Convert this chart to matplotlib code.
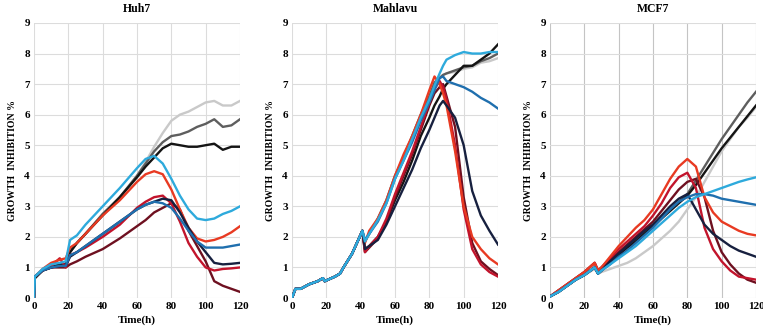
import matplotlib.pyplot as plt
import numpy as np

plt.rcParams['font.family'] = ['Liberation Serif', 'DejaVu Serif']
plt.rcParams['font.weight'] = 'bold'

colors = {
    "lgray": "#c9c9c9", "dgray": "#5e5e5e", "black": "#141414",
    "maroon": "#6e1020", "crimson": "#c2142c", "red": "#e83a22",
    "navy": "#17203f", "steel": "#1f6fae", "sky": "#2eaadc",
}
order = ["lgray", "dgray", "black", "maroon", "crimson", "red", "navy", "steel", "sky"]

# Huh7
huh7_t = [0, 0.5, 5, 10, 15, 18.5, 21, 25, 30, 40, 50, 60, 65, 70, 75, 80, 85, 90, 95, 100, 105, 110, 115, 120]
huh7 = {
    "lgray":   [0, 0.65, 0.9, 1.0, 1.1, 1.1, 1.5, 1.8, 2.1, 2.75, 3.3, 4.0, 4.45, 4.95, 5.4, 5.8, 6.0, 6.1, 6.25, 6.4, 6.45, 6.3, 6.3, 6.45],
    "dgray":   [0, 0.65, 0.9, 1.0, 1.1, 1.1, 1.5, 1.8, 2.1, 2.75, 3.3, 4.0, 4.4, 4.8, 5.1, 5.3, 5.35, 5.45, 5.6, 5.7, 5.85, 5.6, 5.65, 5.85],
    "black":   [0, 0.65, 0.9, 1.0, 1.1, 1.1, 1.5, 1.8, 2.1, 2.7, 3.3, 3.95, 4.3, 4.6, 4.9, 5.05, 5.0, 4.95, 4.95, 5.0, 5.05, 4.85, 4.95, 4.95],
    "maroon":  [0, 0.7, 0.9, 1.0, 1.0, 1.0, 1.1, 1.2, 1.35, 1.6, 1.95, 2.35, 2.55, 2.8, 2.95, 3.1, 2.9, 2.2, 1.7, 1.2, 0.55, 0.4, 0.3, 0.2],
    "crimson": [0, 0.7, 0.9, 1.05, 1.3, 1.0, 1.4, 1.5, 1.65, 2.0, 2.4, 2.95, 3.15, 3.3, 3.35, 3.1, 2.5, 1.8, 1.35, 1.0, 0.9, 0.95, 0.97, 1.0],
    "red":     [0, 0.7, 0.95, 1.15, 1.25, 1.3, 1.65, 1.8, 2.1, 2.7, 3.2, 3.8, 4.05, 4.15, 4.05, 3.55, 2.9, 2.3, 1.95, 1.85, 1.9, 2.0, 2.15, 2.35],
    "navy":    [0, 0.7, 0.9, 1.0, 1.05, 1.05, 1.35, 1.5, 1.7, 2.1, 2.5, 2.9, 3.05, 3.15, 3.25, 3.2, 2.8, 2.3, 1.85, 1.5, 1.15, 1.1, 1.12, 1.15],
    "steel":   [0, 0.7, 0.9, 1.0, 1.05, 1.05, 1.4, 1.5, 1.7, 2.1, 2.5, 2.9, 3.05, 3.15, 3.1, 2.95, 2.6, 2.2, 1.85, 1.65, 1.65, 1.65, 1.7, 1.75],
    "sky":     [0, 0.7, 0.95, 1.1, 1.15, 1.2, 1.9, 2.05, 2.4, 3.0, 3.6, 4.25, 4.55, 4.65, 4.4, 3.9, 3.35, 2.9, 2.6, 2.55, 2.6, 2.75, 2.85, 3.0],
}

# Mahlavu
mah_t = [0, 2, 5, 10, 15, 18, 19, 25, 28, 30, 35, 41, 42.5, 45, 50, 55, 60, 65, 70, 75, 80, 83, 86, 88, 90, 95, 100, 105, 110, 115, 120]
mah_start = [0, 0.3, 0.3, 0.45, 0.55, 0.65, 0.55, 0.7, 0.8, 1.0, 1.45, 2.2]
mahlavu = {
    "lgray":   mah_start + [1.85, 2.1, 2.6, 3.2, 4.0, 4.6, 5.3, 6.0, 6.6, 7.05, 7.2, 7.3, 7.35, 7.4, 7.5, 7.55, 7.7, 7.75, 7.85],
    "dgray":   mah_start + [1.85, 2.1, 2.6, 3.2, 4.0, 4.6, 5.3, 6.0, 6.6, 7.05, 7.2, 7.3, 7.35, 7.45, 7.55, 7.6, 7.75, 7.85, 8.0],
    "black":   mah_start + [1.6, 1.7, 2.0, 2.5, 3.2, 3.8, 4.5, 5.3, 5.9, 6.3, 6.6, 6.85, 7.0, 7.3, 7.6, 7.6, 7.8, 8.0, 8.3],
    "maroon":  mah_start + [1.5, 1.65, 1.95, 2.5, 3.3, 4.0, 4.7, 5.5, 6.3, 6.7, 6.9, 7.0, 6.6, 5.6, 3.3, 1.8, 1.2, 0.95, 0.75],
    "crimson": mah_start + [1.5, 1.7, 2.0, 2.6, 3.4, 4.1, 4.8, 5.6, 6.4, 6.85, 7.1, 6.9, 6.5, 5.0, 2.9, 1.6, 1.1, 0.85, 0.7],
    "red":     mah_start + [1.8, 2.2, 2.6, 3.2, 4.0, 4.7, 5.3, 6.0, 6.8, 7.25, 7.0, 6.7, 6.3, 4.8, 3.0, 2.0, 1.6, 1.3, 1.1],
    "navy":    mah_start + [1.6, 1.7, 1.9, 2.4, 3.0, 3.6, 4.2, 4.9, 5.5, 5.9, 6.3, 6.45, 6.3, 5.9, 5.0, 3.5, 2.7, 2.2, 1.75],
    "steel":   mah_start + [1.9, 2.1, 2.5, 3.1, 3.9, 4.5, 5.1, 5.8, 6.4, 6.8, 7.2, 7.25, 7.1, 7.0, 6.9, 6.75, 6.55, 6.4, 6.2],
    "sky":     mah_start + [1.85, 2.1, 2.55, 3.1, 3.9, 4.5, 5.2, 5.9, 6.5, 6.95, 7.35, 7.6, 7.8, 7.95, 8.05, 8.0, 8.0, 8.05, 8.05],
}

# MCF7
mcf_t = [0, 5, 10, 15, 20, 26, 28, 30, 35, 40, 45, 50, 55, 60, 65, 70, 75, 80, 85, 90, 95, 100, 105, 110, 115, 120]
mcf_red_start = [0.05, 0.25, 0.45, 0.65, 0.85, 1.15, 0.9, 1.0]
mcf_blue_start = [0.05, 0.2, 0.4, 0.6, 0.75, 1.0, 0.8, 0.9]
mcf7 = {
    "lgray":   [0.05, 0.25, 0.4, 0.6, 0.75, 0.95, 0.8, 0.85, 0.95, 1.05, 1.15, 1.3, 1.5, 1.7, 1.95, 2.2, 2.5, 2.9, 3.3, 3.8, 4.3, 4.8, 5.2, 5.6, 5.9, 6.25],
    "dgray":   mcf_blue_start + [1.2, 1.45, 1.7, 1.9, 2.15, 2.4, 2.65, 2.9, 3.15, 3.4, 3.85, 4.3, 4.75, 5.2, 5.6, 6.0, 6.4, 6.75],
    "black":   mcf_blue_start + [1.15, 1.4, 1.65, 1.85, 2.1, 2.35, 2.6, 2.85, 3.1, 3.35, 3.7, 4.1, 4.5, 4.9, 5.25, 5.6, 5.95, 6.3],
    "maroon":  mcf_red_start + [1.25, 1.5, 1.75, 2.0, 2.25, 2.5, 2.85, 3.2, 3.55, 3.8, 3.9, 3.3, 2.2, 1.5, 1.1, 0.8, 0.6, 0.5],
    "crimson": mcf_red_start + [1.3, 1.6, 1.85, 2.1, 2.35, 2.7, 3.1, 3.6, 3.95, 4.1, 3.6, 2.3, 1.6, 1.2, 0.9, 0.7, 0.65, 0.6],
    "red":     mcf_red_start + [1.35, 1.7, 2.0, 2.3, 2.55, 2.9, 3.4, 3.9, 4.3, 4.55, 4.3, 3.3, 2.8, 2.5, 2.35, 2.2, 2.1, 2.05],
    "navy":    mcf_blue_start + [1.2, 1.45, 1.7, 1.95, 2.2, 2.4, 2.7, 3.0, 3.25, 3.4, 2.9, 2.4, 2.1, 1.9, 1.7, 1.55, 1.45, 1.35],
    "steel":   mcf_blue_start + [1.1, 1.35, 1.55, 1.8, 2.05, 2.3, 2.6, 2.9, 3.15, 3.3, 3.4, 3.4, 3.35, 3.25, 3.2, 3.15, 3.1, 3.05],
    "sky":     mcf_blue_start + [1.1, 1.3, 1.5, 1.7, 1.95, 2.2, 2.45, 2.7, 2.95, 3.15, 3.3, 3.4, 3.5, 3.6, 3.7, 3.8, 3.88, 3.95],
}

panels = [("Huh7", huh7_t, huh7), ("Mahlavu", mah_t, mahlavu), ("MCF7", mcf_t, mcf7)]
lefts = [34 / 763, 292 / 763, 550 / 763]

fig = plt.figure(figsize=(7.63, 3.34), dpi=100)
for (name, t, data), left in zip(panels, lefts):
    ax = fig.add_axes([left, 36 / 334, 206 / 763, 275 / 334])
    for k in order:
        ax.plot(t, data[k], color=colors[k], lw=1.7, solid_joinstyle="round")
    ax.set_xlim(0, 120)
    ax.set_ylim(0, 9)
    ax.set_xticks(np.arange(0, 121, 20))
    ax.set_yticks(np.arange(0, 10, 1))
    vcol = "#c4c4c4" if name == "MCF7" else "#dcdcdc"
    ax.grid(True, axis="x", color=vcol, lw=0.8)
    ax.grid(True, axis="y", color="#dcdcdc", lw=0.8)
    ax.set_axisbelow(True)
    for s in ax.spines.values():
        s.set_visible(False)
    ax.tick_params(length=0, labelsize=8, pad=3)
    ax.set_title(name, fontsize=8.5, fontweight="bold", pad=8)
    ax.set_xlabel("Time(h)", fontsize=8, fontweight="bold", labelpad=3)
    ax.set_ylabel("GROWTH  INHIBITION %", fontsize=7, fontweight="bold", labelpad=5)

fig.savefig("out.png", dpi=100)
